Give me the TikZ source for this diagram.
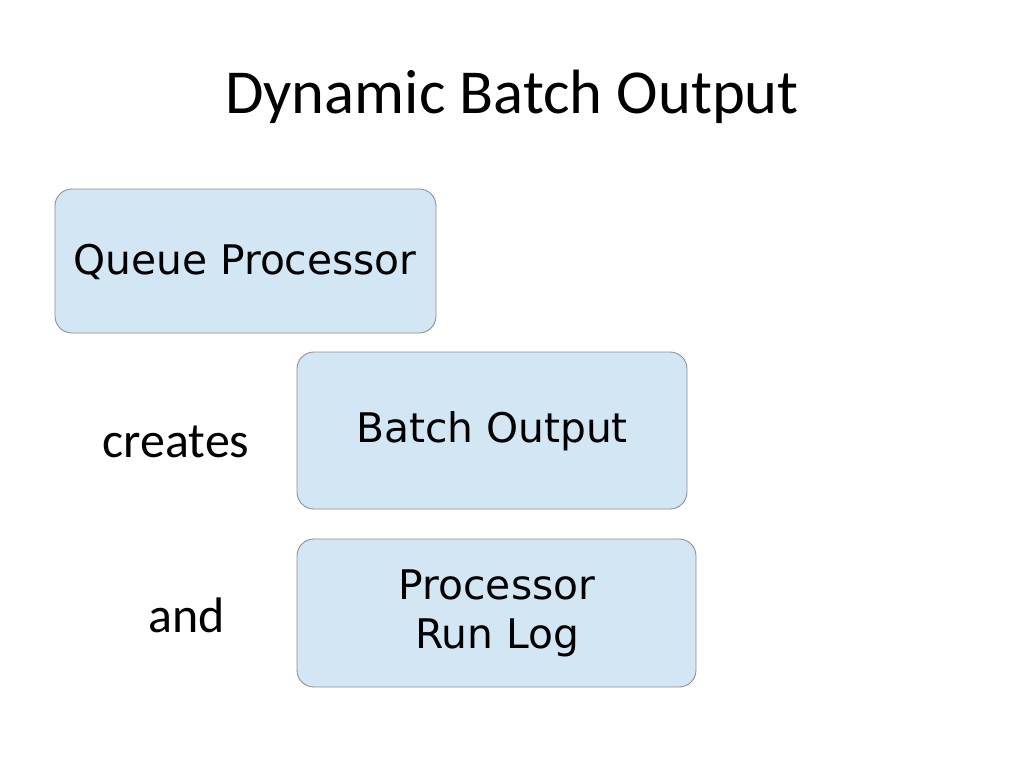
\documentclass[tikz,border=0pt]{standalone}
\usepackage{fontspec}
\setmainfont{Carlito}
\newfontfamily\boxfont{DejaVu Sans}
\definecolor{boxblue}{HTML}{D2E6F4}
\definecolor{boxline}{HTML}{8C8C8C}
\begin{document}
\begin{tikzpicture}[x=0.025cm,y=-0.025cm,
                item/.style={draw=boxline,fill=boxblue,rounded corners=12,line width=0.6pt},
                label/.style={font=\boxfont\fontsize{29}{35}\selectfont,align=center},
                word/.style={font=\fontsize{35.5}{42}\selectfont}
            ]
                \useasboundingbox (0,0) rectangle (1024,768);
                \node[font=\fontsize{44.5}{52}\selectfont] (title) at (512,97) {Dynamic Batch Output};
                \draw[item] (55,189) rectangle (436,333);
                \node[label] (queue) at (245,262) {Queue Processor};
                \draw[item] (297,352) rectangle (687,509);
                \node[label] (batch) at (492,431) {Batch Output};
                \draw[item] (297,539) rectangle (696,687);
                \node[label] (runlog) at (497,613) {Processor\\Run Log};
                \node[word] (creates) at (176,442) {creates};
                \node[word] (and) at (187,615) {and};
            \end{tikzpicture}
\end{document}
